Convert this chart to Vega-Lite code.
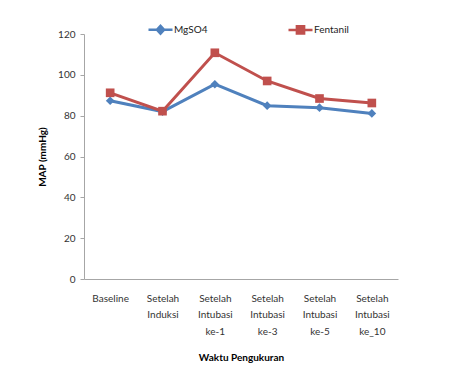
{
  "$schema": "https://vega.github.io/schema/vega-lite/v6.json",
  "autosize": {"type": "none"},
  "width": 314,
  "height": 245,
  "padding": {"left": 84, "top": 34, "right": 67, "bottom": 90},
  "background": "white",
  "config": {
    "view": {"stroke": null},
    "font": "Lato",
    "axis": {"labelFont": "Lato", "titleFont": "Lato", "grid": false}
  },
  "data": {
    "values": [
      {"waktu": "Baseline", "kelompok": "MgSO4", "map": 87.3},
      {"waktu": "Setelah Induksi", "kelompok": "MgSO4", "map": 82.0},
      {"waktu": "Setelah Intubasi ke-1", "kelompok": "MgSO4", "map": 95.4},
      {"waktu": "Setelah Intubasi ke-3", "kelompok": "MgSO4", "map": 84.9},
      {"waktu": "Setelah Intubasi ke-5", "kelompok": "MgSO4", "map": 83.9},
      {"waktu": "Setelah Intubasi ke_10", "kelompok": "MgSO4", "map": 81.1},
      {"waktu": "Baseline", "kelompok": "Fentanil", "map": 91.2},
      {"waktu": "Setelah Induksi", "kelompok": "Fentanil", "map": 82.2},
      {"waktu": "Setelah Intubasi ke-1", "kelompok": "Fentanil", "map": 110.8},
      {"waktu": "Setelah Intubasi ke-3", "kelompok": "Fentanil", "map": 97.0},
      {"waktu": "Setelah Intubasi ke-5", "kelompok": "Fentanil", "map": 88.4},
      {"waktu": "Setelah Intubasi ke_10", "kelompok": "Fentanil", "map": 86.2}
    ]
  },
  "encoding": {
    "x": {
      "field": "waktu",
      "type": "nominal",
      "sort": null,
      "scale": {"paddingInner": 0, "paddingOuter": 0},
      "axis": {
        "title": "Waktu Pengukuran",
        "titleFontSize": 10,
        "titleFontWeight": "bold",
        "titleColor": "#000000",
        "titlePadding": 16,
        "labelAngle": 0,
        "labelFontSize": 10,
        "labelColor": "#333333",
        "labelExpr": "split(datum.label, ' ')",
        "labelLineHeight": 16.5,
        "labelPadding": 14,
        "labelBaseline": "top",
        "ticks": false,
        "domainColor": "#a6a6a6",
        "domainWidth": 1
      }
    },
    "y": {
      "field": "map",
      "type": "quantitative",
      "scale": {"domain": [0, 120]},
      "axis": {
        "title": "MAP (mmHg)",
        "titleFontSize": 10,
        "titleFontWeight": "bold",
        "titleColor": "#000000",
        "titlePadding": 10,
        "values": [0, 20, 40, 60, 80, 100, 120],
        "labelFontSize": 10,
        "labelColor": "#333333",
        "labelPadding": 5,
        "tickSize": 4,
        "tickColor": "#a6a6a6",
        "domainColor": "#a6a6a6",
        "domainWidth": 1
      }
    }
  },
  "layer": [
    {
      "mark": {"type": "line", "strokeWidth": 3},
      "encoding": {
        "color": {
          "field": "kelompok",
          "type": "nominal",
          "scale": {"domain": ["MgSO4", "Fentanil"], "range": ["#4F81BD", "#C0504D"]},
          "legend": null
        }
      }
    },
    {
      "mark": {"type": "point", "filled": true, "opacity": 1, "size": 75},
      "encoding": {
        "color": {
          "field": "kelompok",
          "type": "nominal",
          "scale": {"domain": ["MgSO4", "Fentanil"], "range": ["#4F81BD", "#C0504D"]},
          "legend": null
        },
        "shape": {
          "field": "kelompok",
          "type": "nominal",
          "scale": {"domain": ["MgSO4", "Fentanil"], "range": ["diamond", "square"]},
          "legend": null
        }
      }
    },
    {
      "transform": [{"filter": "datum.map < 0"}],
      "mark": {"type": "point", "filled": false, "opacity": 1, "size": 64, "strokeWidth": 2.5},
      "encoding": {
        "shape": {
          "field": "kelompok",
          "type": "nominal",
          "scale": {
            "domain": ["MgSO4", "Fentanil"],
            "range": [
              "M-3,0H3M0,-1L0.9,0L0,1L-0.9,0Z",
              "M-3,0H3M-0.9,-0.9H0.9V0.9H-0.9Z"
            ]
          },
          "legend": {
            "title": null,
            "orient": "none",
            "legendX": 71,
            "legendY": -10,
            "direction": "horizontal",
            "symbolSize": 64,
            "symbolStrokeWidth": 2.5,
            "labelFontSize": 10,
            "labelColor": "#222222",
            "labelOffset": 8,
            "columnPadding": 75
          }
        },
        "fill": {
          "field": "kelompok",
          "type": "nominal",
          "scale": {"domain": ["MgSO4", "Fentanil"], "range": ["#4F81BD", "#C0504D"]},
          "legend": {
            "title": null,
            "orient": "none",
            "legendX": 71,
            "legendY": -10,
            "direction": "horizontal",
            "symbolSize": 64,
            "symbolStrokeWidth": 2.5,
            "labelFontSize": 10,
            "labelColor": "#222222",
            "labelOffset": 8,
            "columnPadding": 75
          }
        },
        "stroke": {
          "field": "kelompok",
          "type": "nominal",
          "scale": {"domain": ["MgSO4", "Fentanil"], "range": ["#4F81BD", "#C0504D"]},
          "legend": {
            "title": null,
            "orient": "none",
            "legendX": 71,
            "legendY": -10,
            "direction": "horizontal",
            "symbolSize": 64,
            "symbolStrokeWidth": 2.5,
            "labelFontSize": 10,
            "labelColor": "#222222",
            "labelOffset": 8,
            "columnPadding": 75
          }
        }
      }
    }
  ],
  "resolve": {
    "scale": {"shape": "independent"},
    "legend": {"shape": "independent", "fill": "independent", "stroke": "independent", "color": "independent"}
  }
}
